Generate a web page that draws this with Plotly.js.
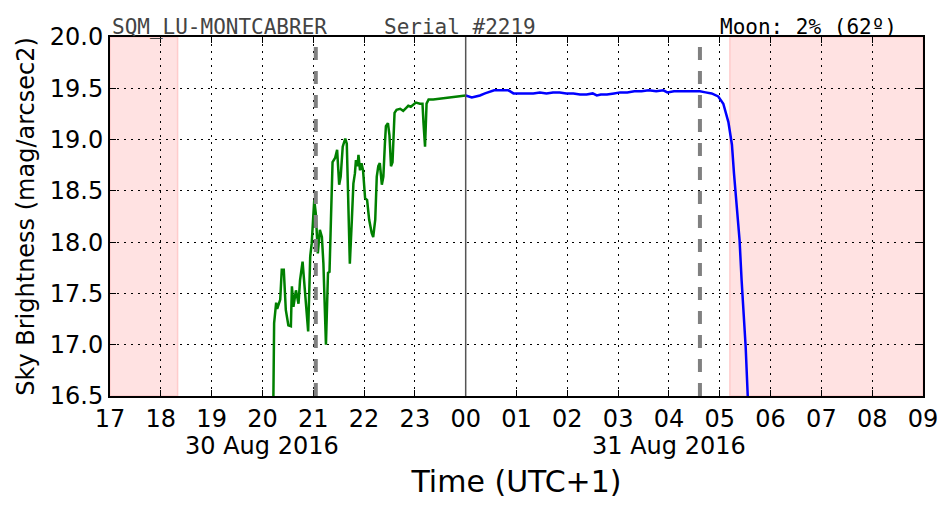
<!DOCTYPE html>
<html>
<head>
<meta charset="utf-8">
<script src="https://cdn.plot.ly/plotly-3.0.1.min.js"></script>
<style>body{margin:0;padding:0;background:#fff;} #chart{width:952px;height:512px;}</style>
</head>
<body>
<div id="chart"></div>
<script>
// Time in hours since 00:00 of 30 Aug 2016 (UTC+1); values > 24 are 31 Aug
const eveningHours = [20.21,20.23,20.27,20.29,20.35,20.38,20.42,20.46,20.51,20.56,20.58,20.61,20.64,20.66,20.71,20.74,20.79,20.82,20.86,20.90,20.94,20.97,21.00,21.02,21.05,21.09,21.13,21.17,21.20,21.23,21.25,21.29,21.32,21.35,21.38,21.43,21.47,21.51,21.54,21.58,21.63,21.66,21.69,21.72,21.76,21.79,21.82,21.84,21.87,21.89,21.92,21.95,21.98,22.02,22.06,22.10,22.15,22.18,22.22,22.25,22.28,22.31,22.35,22.38,22.41,22.43,22.47,22.50,22.53,22.56,22.60,22.64,22.71,22.77,22.83,22.87,22.92,22.97,23.02,23.10,23.15,23.17,23.20,23.23,23.27,23.36,23.50,23.69,23.85,24.00];
const eveningMag = [16.2,17.21,17.41,17.35,17.44,17.73,17.73,17.34,17.19,17.18,17.57,17.37,17.47,17.53,17.40,17.63,17.81,17.60,17.40,17.13,17.86,17.99,18.25,18.41,18.28,17.89,18.12,18.05,17.79,17.40,17.00,17.70,17.71,18.25,18.78,18.82,18.90,18.56,18.64,18.93,19.01,18.96,18.31,17.79,18.22,18.57,18.67,18.80,18.74,18.85,18.70,18.77,18.70,18.43,18.41,18.22,18.09,18.05,18.22,18.64,18.74,18.77,18.56,18.64,18.96,19.13,19.16,19.04,18.74,18.78,19.26,19.29,19.30,19.28,19.31,19.33,19.32,19.34,19.36,19.35,19.35,19.16,18.93,19.35,19.39,19.39,19.40,19.41,19.42,19.43];
const nightHours = [24.00,24.06,24.12,24.20,24.28,24.38,24.48,24.56,24.64,24.74,24.84,24.94,25.06,25.20,25.33,25.46,25.59,25.72,25.85,25.98,26.12,26.25,26.38,26.50,26.58,26.66,26.78,26.92,27.04,27.18,27.32,27.46,27.60,27.75,27.89,27.97,28.10,28.24,28.38,28.50,28.61,28.72,28.84,28.97,29.07,29.17,29.24,29.28,29.33,29.39,29.43,29.47,29.51,29.55,29.58];
const nightMag = [19.43,19.42,19.41,19.42,19.43,19.45,19.47,19.48,19.48,19.48,19.48,19.45,19.45,19.45,19.45,19.46,19.45,19.46,19.46,19.45,19.45,19.44,19.44,19.45,19.43,19.44,19.44,19.45,19.46,19.46,19.47,19.47,19.48,19.47,19.48,19.46,19.47,19.47,19.47,19.47,19.47,19.46,19.45,19.42,19.35,19.17,18.95,18.67,18.35,18.02,17.63,17.31,16.98,16.51,16.2];

const tickHours = [17,18,19,20,21,22,23,24,25,26,27,28,29,30,31,32,33];
const tickLabels = ['17','18','19','20','21','22','23','00','01','02','03','04','05','06','07','08','09'];
const dateLabels = ['30 Aug 2016','31 Aug 2016'];
const dateLabelHours = [20, 28];
const daylightStart = [17, 29.2];
const daylightEnd = [18.33, 33];
const astroTwilightHours = [21.05, 28.61];
const midnightHour = [24];
const headerTexts = ['SQM_LU-MONTCABRER','Serial #2219','Moon: 2% (62º)'];
const yTicks = [16.5,17.0,17.5,18.0,18.5,19.0,19.5,20.0];

const shapes = [];
for (let i = 0; i < daylightStart.length; i++) {
  shapes.push({type:'rect', xref:'x', yref:'paper', x0:daylightStart[i], x1:daylightEnd[i], y0:0, y1:1,
    fillcolor:'#ffe2e2', line:{color:'#ffcccc', width:1.5}, layer:'below'});
}
astroTwilightHours.forEach(h => shapes.push({type:'line', xref:'x', yref:'paper', x0:h, x1:h, y0:0, y1:1,
  line:{color:'#808080', width:4, dash:'13px,11px'}, layer:'above'}));
midnightHour.forEach(h => shapes.push({type:'line', xref:'x', yref:'paper', x0:h, x1:h, y0:0, y1:1,
  line:{color:'#555555', width:1.5}, layer:'above'}));

const annotations = [];
dateLabels.forEach((t,i) => annotations.push({text:t, x:dateLabelHours[i], xref:'x', y:0, yref:'paper',
  yanchor:'top', xanchor:'center', yshift:-34, showarrow:false,
  font:{family:'DejaVu Sans', size:24, color:'#000'}}));
const headerX = [0, 0.335, 0.748];
const headerColor = ['#444','#444','#000'];
headerTexts.forEach((t,i) => annotations.push({text:t, x:headerX[i], xref:'paper', y:1, yref:'paper',
  xanchor:'left', yanchor:'bottom', yshift:-4, showarrow:false,
  font:{family:'DejaVu Sans Mono', size:21, color:headerColor[i]}}));

const traces = [
  {x:eveningHours, y:eveningMag, mode:'lines', line:{color:'#008000', width:2.5}, hoverinfo:'none'},
  {x:nightHours, y:nightMag, mode:'lines', line:{color:'#0000ff', width:2.5}, hoverinfo:'none'}
];

const layout = {
  width:952, height:512,
  margin:{l:110, r:29, t:37, b:116},
  paper_bgcolor:'#fff', plot_bgcolor:'rgba(0,0,0,0)',
  showlegend:false,
  font:{family:'DejaVu Sans', color:'#000'},
  xaxis:{range:[17,33], tickvals:tickHours, ticktext:tickLabels,
    showgrid:true, gridcolor:'#000', gridwidth:1, griddash:'2px,5px',
    showline:true, linecolor:'#000', linewidth:2, mirror:'ticks',
    ticks:'inside', ticklen:6, tickcolor:'#000', tickwidth:1,
    tickfont:{family:'DejaVu Sans', size:24}, zeroline:false,
    title:{text:'Time (UTC+1)', font:{family:'DejaVu Sans', size:30}, standoff:39}},
  yaxis:{range:[16.5,20.0], tickvals:yTicks, ticktext:yTicks.map(v=>v.toFixed(1)),
    showgrid:true, gridcolor:'#000', gridwidth:1, griddash:'2px,5px',
    showline:true, linecolor:'#000', linewidth:2, mirror:'ticks',
    ticks:'inside', ticklen:6, tickcolor:'#000', tickwidth:1,
    tickfont:{family:'DejaVu Sans', size:24}, zeroline:false,
    title:{text:'Sky Brightness (mag/arcsec2)', font:{family:'DejaVu Sans', size:24}, standoff:8}},
  shapes:shapes,
  annotations:annotations
};

Plotly.newPlot('chart', traces, layout, {staticPlot:true});
</script>
</body>
</html>
